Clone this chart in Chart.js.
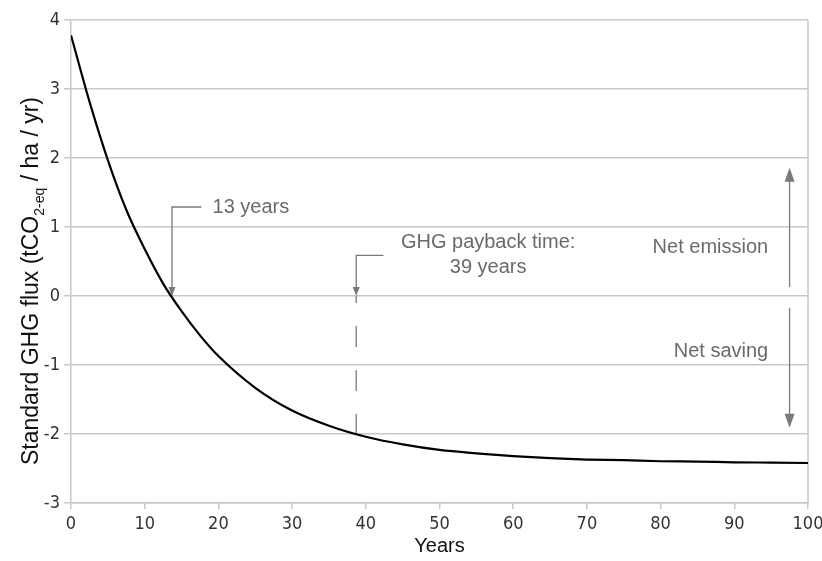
<!DOCTYPE html>
<html>
<head>
<meta charset="utf-8">
<script src="https://cdn.jsdelivr.net/npm/chart.js@4/dist/chart.umd.min.js"></script>
<style>
  html, body { margin: 0; padding: 0; background: #fff; }
  #wrap { width: 822px; height: 561px; }
</style>
</head>
<body>
<div id="wrap"><canvas id="ghgChart" width="822" height="561"></canvas></div>
<script>
// Years and standard GHG flux (tCO2-eq / ha / yr)
const years = [0, 2.5, 5, 7.5, 10, 12.5, 15, 17.5, 20, 25, 30, 35, 40, 45, 50, 55, 60, 65, 70, 75, 80, 85, 90, 95, 100];
const flux = [3.78, 2.82, 1.97, 1.25, 0.68, 0.18, -0.22, -0.57, -0.87, -1.33, -1.66, -1.88, -2.04, -2.15, -2.23, -2.28, -2.32, -2.35, -2.37, -2.38, -2.395, -2.40, -2.41, -2.415, -2.42];

// Axis ranges / ticks
const xTicks = [0, 10, 20, 30, 40, 50, 60, 70, 80, 90, 100];
const yTicks = [-3, -2, -1, 0, 1, 2, 3, 4];

// Annotations, in data units (years, flux)
const crossing = { x: 13.7, topY: 1.29, elbowX: 17.7, labelX: 19.2, text: '13 years' };
const payback = { x: 38.7, topY: 0.59, elbowX: 42.4, endY: -2.02, labelX: 56.6, labelY: [0.77, 0.41], text: ['GHG payback time:', '39 years'] };
const emission = { x: 97.5, fromY: 0.13, toY: 1.86, labelX: 94.6, labelY: 0.70, text: 'Net emission' };
const saving = { x: 97.5, fromY: -0.17, toY: -1.91, labelX: 94.6, labelY: -0.81, text: 'Net saving' };

const GRID = '#c8c8c8';
const ANNO = '#7a7a7a';
const TICKFONT = { family: "'Liberation Sans Narrow', 'DejaVu Sans Condensed', Arial, sans-serif", size: 18 };

function arrowHead(ctx, tx, ty, dir, w, h) {
    // dir = 1 points down, -1 points up
    ctx.beginPath();
    ctx.moveTo(tx, ty);
    ctx.lineTo(tx - w / 2, ty - dir * h);
    ctx.lineTo(tx + w / 2, ty - dir * h);
    ctx.closePath();
    ctx.fill();
}

const annotationPlugin = {
    id: 'ghgAnnotations',
    beforeDatasetsDraw(chart) {
        const { ctx, chartArea } = chart;
        const x = chart.scales.x, y = chart.scales.y;
        ctx.save();
        ctx.strokeStyle = ANNO;
        ctx.fillStyle = ANNO;
        ctx.lineWidth = 1.3;

        // right frame line
        ctx.save();
        ctx.strokeStyle = GRID;
        ctx.lineWidth = 1.5;
        ctx.beginPath();
        ctx.moveTo(chartArea.right, chartArea.top);
        ctx.lineTo(chartArea.right, chartArea.bottom);
        ctx.stroke();
        ctx.restore();

        // 13 years
        let px = x.getPixelForValue(crossing.x);
        let top = y.getPixelForValue(crossing.topY);
        let zero = y.getPixelForValue(0);
        ctx.beginPath();
        ctx.moveTo(x.getPixelForValue(crossing.elbowX), top);
        ctx.lineTo(px, top);
        ctx.lineTo(px, zero - 6);
        ctx.stroke();
        arrowHead(ctx, px, zero, 1, 7, 9);

        // payback
        px = x.getPixelForValue(payback.x);
        top = y.getPixelForValue(payback.topY);
        ctx.beginPath();
        ctx.moveTo(x.getPixelForValue(payback.elbowX), top);
        ctx.lineTo(px, top);
        ctx.lineTo(px, zero - 6);
        ctx.stroke();
        arrowHead(ctx, px, zero, 1, 7, 9);
        ctx.save();
        ctx.setLineDash([21, 23]);
        ctx.lineDashOffset = 14;
        ctx.beginPath();
        ctx.moveTo(px, zero);
        ctx.lineTo(px, y.getPixelForValue(payback.endY));
        ctx.stroke();
        ctx.restore();

        // net emission / net saving arrows
        [emission, saving].forEach(a => {
            const ax = x.getPixelForValue(a.x);
            const from = y.getPixelForValue(a.fromY);
            const to = y.getPixelForValue(a.toY);
            const dir = to > from ? 1 : -1;
            ctx.beginPath();
            ctx.moveTo(ax, from);
            ctx.lineTo(ax, to - dir * 10);
            ctx.stroke();
            arrowHead(ctx, ax, to, dir, 10, 14);
        });

        // labels
        ctx.fillStyle = '#6a6a6a';
        ctx.font = "20px 'Liberation Sans', Arial, sans-serif";
        ctx.textBaseline = 'middle';
        ctx.textAlign = 'left';
        ctx.fillText(crossing.text, x.getPixelForValue(crossing.labelX), y.getPixelForValue(crossing.topY));
        ctx.textAlign = 'center';
        payback.text.forEach((t, i) => {
            ctx.fillText(t, x.getPixelForValue(payback.labelX), y.getPixelForValue(payback.labelY[i]));
        });
        ctx.textAlign = 'right';
        ctx.fillText(emission.text, x.getPixelForValue(emission.labelX), y.getPixelForValue(emission.labelY));
        ctx.fillText(saving.text, x.getPixelForValue(saving.labelX), y.getPixelForValue(saving.labelY));
        ctx.restore();
    },
    afterDraw(chart) {
        // y axis title with subscript
        const ctx = chart.ctx;
        const parts = [
            { t: 'Standard GHG flux (tCO', size: 23, shift: 0 },
            { t: '2-eq', size: 14, shift: 6 },
            { t: ' / ha / yr)', size: 23, shift: 0 }
        ];
        ctx.save();
        ctx.fillStyle = '#111';
        ctx.textBaseline = 'alphabetic';
        ctx.textAlign = 'left';
        let total = 0;
        parts.forEach(p => {
            ctx.font = p.size + "px 'Liberation Sans', Arial, sans-serif";
            p.w = ctx.measureText(p.t).width;
            total += p.w;
        });
        ctx.translate(38, 281);
        ctx.rotate(-Math.PI / 2);
        let cx = -total / 2;
        parts.forEach(p => {
            ctx.font = p.size + "px 'Liberation Sans', Arial, sans-serif";
            ctx.fillText(p.t, cx, p.shift);
            cx += p.w;
        });
        ctx.restore();
    }
};

new Chart(document.getElementById('ghgChart'), {
    type: 'line',
    data: {
        datasets: [{
            data: years.map((yr, i) => ({ x: yr, y: flux[i] })),
            borderColor: '#000',
            borderWidth: 2.2,
            pointRadius: 0,
            cubicInterpolationMode: 'monotone',
            fill: false
        }]
    },
    options: {
        responsive: false,
        animation: false,
        layout: { padding: { top: 20, right: 14, left: 0, bottom: 0 } },
        plugins: { legend: { display: false }, tooltip: { enabled: false } },
        scales: {
            x: {
                type: 'linear',
                min: 0,
                max: 100,
                afterBuildTicks: s => { s.ticks = xTicks.map(v => ({ value: v })); },
                afterFit: s => { s.height = 58; s.paddingRight = 0; },
                grid: { drawOnChartArea: false, drawTicks: true, tickLength: 6, color: GRID, lineWidth: 1.5 },
                border: { color: GRID, width: 1.5 },
                ticks: { color: '#333', font: TICKFONT, padding: 5, maxRotation: 0 },
                title: {
                    display: true,
                    text: 'Years',
                    color: '#111',
                    font: { family: "'Liberation Sans', Arial, sans-serif", size: 20 },
                    padding: { top: 2, bottom: 3 }
                }
            },
            y: {
                min: -3,
                max: 4,
                afterBuildTicks: s => { s.ticks = yTicks.map(v => ({ value: v })); },
                afterFit: s => { s.width = 71; },
                grid: { color: GRID, lineWidth: 1.5, tickLength: 7 },
                border: { color: GRID, width: 1.5 },
                ticks: { color: '#333', font: TICKFONT, padding: 4 }
            }
        }
    },
    plugins: [annotationPlugin]
});
</script>
</body>
</html>
